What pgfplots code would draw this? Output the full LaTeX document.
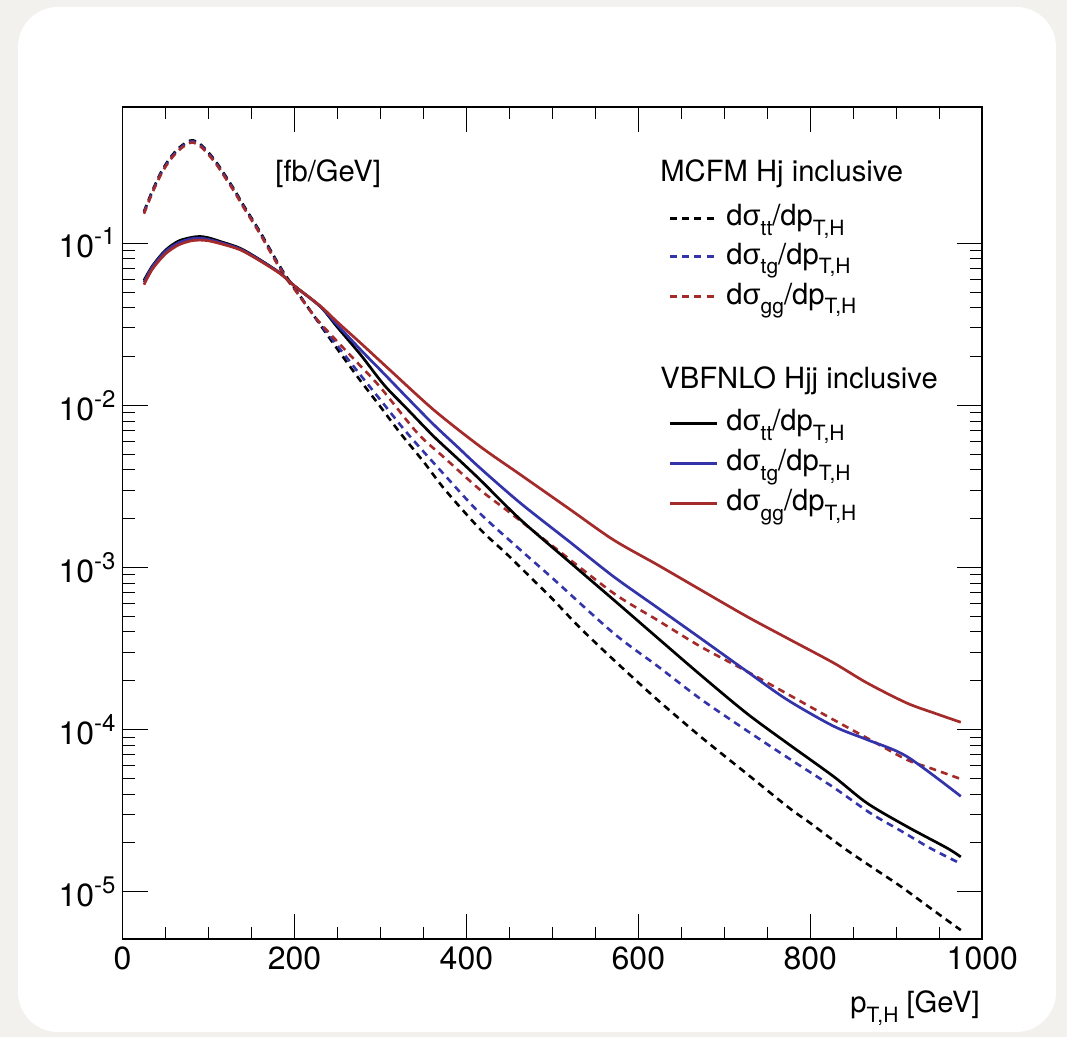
\documentclass[border=0pt]{standalone}
\usepackage{pgfplots}
\pgfplotsset{compat=1.18}
\usepackage{fontspec}
\setmainfont{TeX Gyre Heros}
\newfontfamily\grk{Liberation Sans}
\definecolor{bg}{RGB}{243,241,237}
\definecolor{myblue}{RGB}{51,51,170}
\definecolor{myred}{RGB}{165,42,42}
\newcommand\lf{\fontsize{14.6}{14.6}\selectfont}
\newcommand\sub[1]{\raisebox{-0.32em}{\fontsize{10.5}{10.5}\selectfont #1}}
\newcommand\sups[1]{\raisebox{6.5pt}{\fontsize{12}{12}\selectfont #1}}
\newcommand\dsig[1]{d{\grk σ}\sub{#1}/dp\sub{T,H}}
\begin{document}
\begin{tikzpicture}
\begin{scope}[x=0.5pt,y=-0.5pt,shift={(0pt,518.5pt)}]
\fill[bg] (0,0) rectangle (1067,1037);
\fill[white, rounded corners=20pt] (18,7) rectangle (1056,1032);
\end{scope}
\begin{axis}[
  at={(61.25pt,48.85pt)}, anchor=south west,
  scale only axis, width=429.9pt, height=416.3pt,
  ymode=log, xmin=0, xmax=1000, ymin=5.09e-6, ymax=0.695,
  axis line style={line width=0.9pt},
  tick align=inside,
  major tick length=12.5pt, minor tick length=6pt,
  tick style={black, line width=0.5pt},
  xtick={0,200,400,600,800,1000},
  xticklabels={0,200,400,600,800,1000},
  minor xtick={50,100,150,250,300,350,450,500,550,650,700,750,850,900,950},
  ytick={1e-5,1e-4,1e-3,1e-2,1e-1},
  yticklabels={10\sups{-5},10\sups{-4},10\sups{-3},10\sups{-2},10\sups{-1}},
  ticklabel style={font=\fontsize{16}{16}\selectfont},
  clip=true,
]
% MCFM tt
\addplot[black, line width=1.3pt, dash pattern=on 3.5pt off 2.6pt, smooth] coordinates {
(25,0.157) (35,0.212) (45,0.275) (55,0.334) (65,0.384) (75,0.421) (82,0.431) (90,0.41) (100,0.363) (110,0.311) (120,0.259) (130,0.214) (140,0.174) (150,0.143) (160,0.1175) (170,0.0948) (180,0.0767) (190,0.0628) (200,0.053) (225,0.0342) (250,0.0222) (275,0.0146) (300,0.0098) (323,0.00675) (350,0.0045) (375,0.00302) (416,0.00172) (447,0.00121) (475,0.000865) (500,0.00064) (533,0.00042) (575,0.000258) (622,0.000153) (672,0.0000908) (725,0.000054) (775,0.000033) (800,0.0000265) (839,0.0000186) (875,0.0000138) (905,0.0000108) (940,0.0000079) (975,0.0000058)};
% MCFM tg
\addplot[myblue, line width=1.3pt, dash pattern=on 3.5pt off 2.6pt, smooth] coordinates {
(25,0.155) (35,0.209) (45,0.271) (55,0.329) (65,0.378) (75,0.415) (82,0.425) (90,0.404) (100,0.358) (110,0.306) (120,0.255) (130,0.211) (140,0.171) (150,0.141) (160,0.1158) (170,0.0934) (180,0.0756) (190,0.0619) (200,0.0525) (225,0.0343) (250,0.0233) (275,0.0158) (300,0.0108) (331,0.00675) (375,0.0037) (416,0.00215) (463,0.00128) (500,0.00086) (571,0.000394) (622,0.000247) (672,0.000155) (725,0.0000995) (773,0.0000675) (827,0.000044) (870,0.0000305) (905,0.0000238) (940,0.0000185) (975,0.0000149)};
% MCFM gg
\addplot[myred, line width=1.3pt, dash pattern=on 3.5pt off 2.6pt, smooth] coordinates {
(25,0.152) (35,0.206) (45,0.267) (55,0.324) (65,0.372) (75,0.408) (82,0.418) (90,0.398) (100,0.352) (110,0.302) (120,0.251) (130,0.208) (140,0.169) (150,0.139) (160,0.114) (170,0.092) (180,0.0744) (190,0.0609) (200,0.052) (225,0.0345) (250,0.0247) (275,0.0179) (300,0.0129) (343,0.00675) (375,0.00472) (416,0.00301) (450,0.00219) (500,0.00136) (571,0.000695) (622,0.000474) (672,0.000326) (726,0.000229) (775,0.000164) (827,0.000115) (870,0.0000864) (912,0.0000653) (940,0.0000578) (975,0.0000496)};
% VBFNLO tt
\addplot[black, line width=1.35pt, smooth] coordinates {
(25,0.059) (35,0.0727) (50,0.0905) (65,0.103) (80,0.1085) (90,0.110) (100,0.108) (115,0.102) (137,0.093) (160,0.079) (184,0.065) (200,0.0545) (230,0.0407) (250,0.0303) (277,0.0205) (304,0.0134) (330,0.00963) (362,0.00643) (390,0.00468) (416,0.00347) (463,0.00197) (520,0.00108) (571,0.000633) (622,0.000369) (672,0.000218) (726,0.000126) (773,0.0000826) (827,0.0000514) (866,0.0000352) (912,0.0000253) (959,0.0000186) (975,0.0000164)};
% VBFNLO tg
\addplot[myblue, line width=1.35pt, smooth] coordinates {
(25,0.0575) (35,0.0718) (50,0.089) (65,0.1005) (80,0.1065) (90,0.1075) (100,0.1055) (115,0.1005) (137,0.092) (160,0.0785) (184,0.0648) (200,0.0545) (230,0.0407) (250,0.0313) (277,0.022) (304,0.0157) (330,0.0113) (362,0.0076) (390,0.00552) (416,0.0041) (463,0.00249) (520,0.00144) (571,0.00088) (622,0.000566) (672,0.000367) (726,0.000229) (773,0.000153) (827,0.000105) (866,0.0000867) (912,0.0000684) (975,0.0000388)};
% VBFNLO gg
\addplot[myred, line width=1.35pt, smooth] coordinates {
(25,0.0555) (35,0.0695) (50,0.086) (65,0.0975) (80,0.1035) (90,0.1045) (100,0.1035) (115,0.099) (137,0.091) (160,0.0778) (184,0.0645) (200,0.0545) (230,0.041) (250,0.0326) (277,0.0242) (310,0.0167) (362,0.00937) (416,0.00557) (463,0.00373) (520,0.00229) (571,0.00148) (622,0.00104) (672,0.00073) (726,0.000499) (775,0.000362) (827,0.000258) (866,0.000194) (912,0.000146) (945,0.000126) (975,0.000111)};
\end{axis}
\begin{scope}[x=0.5pt,y=-0.5pt,shift={(0pt,518.5pt)}]
\node[anchor=base west, inner sep=0, font=\lf] at (275,181.5) {[fb/GeV]};
\node[anchor=base west, inner sep=0, font=\lf] at (660,181.7) {MCFM Hj inclusive};
\node[anchor=base west, inner sep=0, font=\lf] at (660,388.3) {VBFNLO Hjj inclusive};
\draw[black, line width=1.3pt, dash pattern=on 3.5pt off 2.6pt] (670,218.3) -- (717,218.3);
\draw[myblue, line width=1.3pt, dash pattern=on 3.5pt off 2.6pt] (670,256.7) -- (717,256.7);
\draw[myred, line width=1.3pt, dash pattern=on 3.5pt off 2.6pt] (670,296.7) -- (717,296.7);
\draw[black, line width=1.35pt] (670,423.3) -- (717,423.3);
\draw[myblue, line width=1.35pt] (670,463.3) -- (717,463.3);
\draw[myred, line width=1.35pt] (670,503.3) -- (717,503.3);
\node[anchor=base west, inner sep=0, font=\lf] at (726,225.8) {\dsig{tt}};
\node[anchor=base west, inner sep=0, font=\lf] at (726,264.2) {\dsig{tg}};
\node[anchor=base west, inner sep=0, font=\lf] at (726,304.2) {\dsig{gg}};
\node[anchor=base west, inner sep=0, font=\lf] at (726,430.8) {\dsig{tt}};
\node[anchor=base west, inner sep=0, font=\lf] at (726,470.8) {\dsig{tg}};
\node[anchor=base west, inner sep=0, font=\lf] at (726,510.8) {\dsig{gg}};
\node[anchor=base east, inner sep=0, font=\lf] at (980,1013) {p\sub{T,H} [GeV]};
\end{scope}
\end{tikzpicture}
\end{document}
